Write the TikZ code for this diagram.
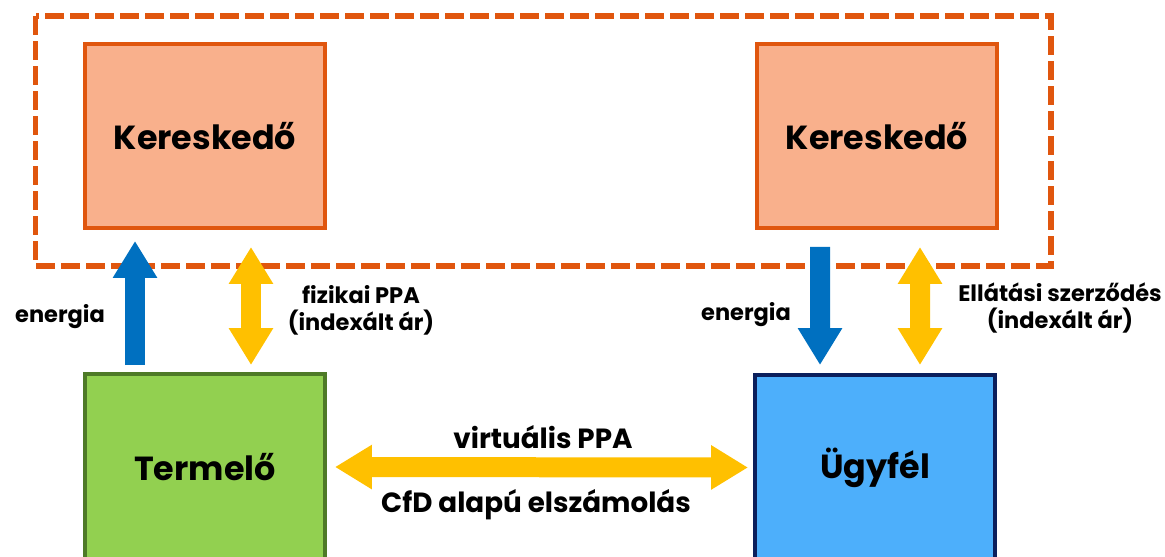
\documentclass[tikz,border=0pt]{standalone}
\usepackage{fontspec}
\setmainfont{Poppins}
\usetikzlibrary{arrows.meta, positioning, calc}

\definecolor{orangeline}{HTML}{E0560E}
\definecolor{salmon}{HTML}{F9B08C}
\definecolor{greenfill}{HTML}{92D050}
\definecolor{greenline}{HTML}{4E7A27}
\definecolor{bluefill}{HTML}{4DAFFB}
\definecolor{navyline}{HTML}{0B1F5C}
\definecolor{energyblue}{HTML}{0070C0}
\definecolor{contractyellow}{HTML}{FFC000}

\begin{document}
\begin{tikzpicture}[x=0.02cm, y=-0.02cm,
    box/.style={draw, line width=0.08cm, minimum width=4.8cm, font=\fontsize{19}{22}\selectfont\bfseries, inner sep=0pt},
    lbl/.style={font=\fontsize{12.8}{15.5}\selectfont\bfseries, align=center, inner sep=0pt},
    midlbl/.style={font=\fontsize{15.8}{19}\selectfont\bfseries, inner sep=0pt},
    flow/.style={line width=0.4cm, -{Triangle[width=0.84cm, length=0.74cm]}},
    both/.style={line width=0.4cm, {Triangle[width=0.84cm, length=0.74cm]}-{Triangle[width=0.84cm, length=0.74cm]}}]
    \clip (0,0) rectangle (1165,557);

    % kereskedoi kor
    \draw[orangeline, line width=0.12cm, dash pattern=on 0.38cm off 0.12cm] (35.5,16.5) rectangle (1050.5,265.5);

    \node[box, draw=orangeline, fill=salmon, minimum height=3.68cm] (ker1) at (205,136) {Kereskedő};
    \node[box, draw=orangeline, fill=salmon, minimum height=3.68cm] (ker2) at (877,136) {Kereskedő};
    \node[box, draw=greenline, fill=greenfill, minimum height=3.72cm] (term) at (205,467) {Termelő};
    \node[box, draw=navyline, fill=bluefill, minimum height=3.70cm] (ugyf) at (875,467.5) {Ügyfél};

    \draw[flow, energyblue] ([xshift=-1.4cm, yshift=0.14cm]term.north) -- ([xshift=-1.4cm, yshift=-0.22cm]ker1.south);
    \draw[both, contractyellow] ([xshift=0.92cm, yshift=0.14cm]term.north) -- ([xshift=0.92cm, yshift=-0.34cm]ker1.south);
    \draw[flow, energyblue] ([xshift=-1.14cm, yshift=-0.34cm]ker2.south) -- ([xshift=-1.1cm, yshift=0.16cm]ugyf.north);
    \draw[both, contractyellow] ([xshift=0.86cm, yshift=-0.34cm]ker2.south) -- ([xshift=0.9cm, yshift=0.16cm]ugyf.north);
    \draw[both, contractyellow] ([xshift=0.16cm]term.east) -- ([xshift=-0.1cm]ugyf.west);

    \node[lbl] (en1) at (60,317) {energia};
    \node[lbl] (fiz) at (361,310) {fizikai PPA\\(indexált ár)};
    \node[lbl] (en2) at (746,315) {energia};
    \node[lbl] (ell) at (1060,308) {Ellátási szerződés\\(indexált ár)};
    \node[midlbl] (vppa) at (543,437) {virtuális PPA};
    \node[midlbl] (cfd) at (536,505) {CfD alapú elszámolás};
\end{tikzpicture}
\end{document}
